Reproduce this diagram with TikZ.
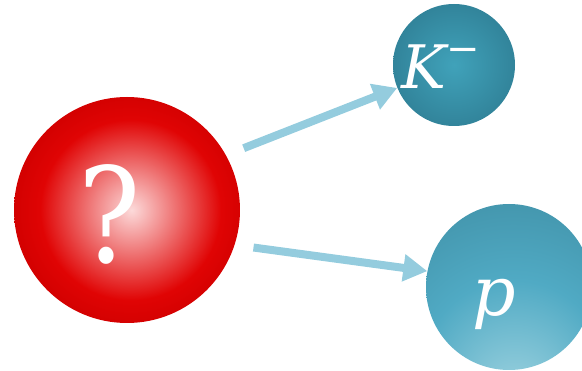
\documentclass[tikz,border=0pt]{standalone}
\usepackage{fontspec}
\setmainfont{DejaVu Serif}
\newfontfamily\qmarkfont[FakeStretch=0.88]{DejaVu Serif}
\usetikzlibrary{arrows.meta, shapes.geometric}
\definecolor{redhi}{RGB}{252, 218, 218}
\definecolor{redmid}{RGB}{224, 4, 4}
\definecolor{reddeep}{RGB}{208, 0, 0}
\definecolor{redrim}{RGB}{172, 0, 0}
\definecolor{kaonhi}{RGB}{64, 162, 186}
\definecolor{kaonrim}{RGB}{44, 120, 142}
\definecolor{protonhi}{RGB}{164, 214, 226}
\definecolor{protonmid}{RGB}{80, 170, 196}
\definecolor{protonrim}{RGB}{54, 128, 148}
\definecolor{arrowblue}{RGB}{148, 204, 222}
\pgfdeclareradialshading{redball}{\pgfpoint{1bp}{0bp}}{color(0bp)=(redhi); color(20bp)=(redmid); color(27bp)=(reddeep); color(36bp)=(redrim); color(100bp)=(redrim)}
\pgfdeclareradialshading{kaonball}{\pgfpoint{0bp}{0bp}}{color(0bp)=(kaonhi); color(35bp)=(kaonrim); color(100bp)=(kaonrim)}
\pgfdeclareradialshading{protonball}{\pgfpoint{2bp}{-36bp}}{color(0bp)=(protonhi); color(28bp)=(protonmid); color(66bp)=(protonrim); color(100bp)=(protonrim)}

\begin{document}
\begin{tikzpicture}[x=1pt, y=-1pt,
        ball/.style={circle, inner sep=0pt, shading=#1},
        tag/.style={text=white, inner sep=0pt},
        arr/.style={-{Triangle[width=26pt, length=24pt]}, line width=8pt, draw=arrowblue}
    ]
        \useasboundingbox (0,0) rectangle (582,371);

        \node[ball=redball, minimum size=226pt,
            label={[tag, font=\qmarkfont\fontsize{132}{132}\selectfont, xshift=-17pt, yshift=-4pt]center:?}] (q) at (127,210) {};
        \node[ball=kaonball, minimum size=122pt,
            label={[tag, font=\fontsize{60}{60}\selectfont, xshift=-13pt, yshift=-2pt]center:{\itshape K}\raisebox{26pt}{\fontsize{40}{40}\selectfont −}}] (km) at (454,65) {};
        \node[ball=protonball, minimum size=166pt,
            label={[tag, font=\fontsize{68}{68}\selectfont\itshape, xshift=-15pt, yshift=-17pt]center:p}] (pr) at (509,287) {};

        \draw[arr, shorten <=19pt] (q.29) -- (km.202);
        \draw[arr, shorten <=19pt] (q.-18) -- (pr.169);
    \end{tikzpicture}
\end{document}
